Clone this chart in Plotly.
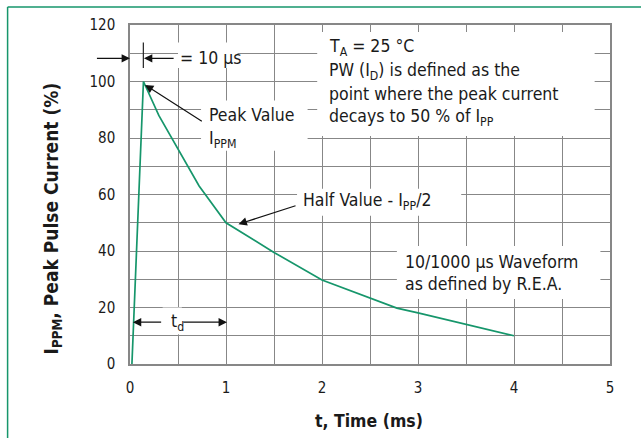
import subprocess
import plotly.graph_objects as go

# ---- data ----
t_ms = [0.02, 0.14, 0.3, 0.5, 0.72, 1.0, 1.5, 2.0, 2.5, 2.78, 3.0, 3.5, 4.0]
ipp_pct = [0, 100, 88, 76, 63, 50, 39.5, 29.7, 23.4, 19.8, 18.1, 14.1, 10]
x_ticks = [0, 1, 2, 3, 4, 5]
y_ticks = [0, 20, 40, 60, 80, 100, 120]

# ---- pick a condensed sans if one is installed ----
try:
    fams = subprocess.run(["fc-list", ":", "family"], capture_output=True,
                          text=True, timeout=10).stdout
except Exception:
    fams = ""
if "Liberation Sans Narrow" in fams:
    FONT, S_BODY, S_TICK, S_XT, S_YT = "Liberation Sans Narrow", 20.5, 17, 22, 23
elif "DejaVu Sans Condensed" in fams:
    FONT, S_BODY, S_TICK, S_XT, S_YT = "DejaVu Sans Condensed", 17.5, 15, 17.5, 19
else:
    FONT, S_BODY, S_TICK, S_XT, S_YT = "Roboto", 17, 15.5, 18.5, 19.5

GREEN = "#16966b"
GRID = "#878787"
INK = "#1a1a1a"

fig = go.Figure()
fig.add_trace(go.Scatter(x=t_ms, y=ipp_pct, mode="lines",
                         line=dict(color=GREEN, width=1.7),
                         hoverinfo="skip", showlegend=False))

axis_common = dict(showgrid=True, gridcolor=GRID, gridwidth=1,
                   showline=True, mirror=True, linecolor=GRID, linewidth=1.5,
                   zeroline=False, ticks="", fixedrange=True,
                   tickfont=dict(family=FONT, size=S_TICK, color=INK))

fig.update_layout(
    width=641, height=438,
    margin=dict(l=130, r=31, t=25, b=74),
    paper_bgcolor="white", plot_bgcolor="white",
    font=dict(family=FONT, color=INK),
    xaxis=dict(range=[0, 5], tickvals=x_ticks, ticklabelstandoff=9,
               minor=dict(dtick=0.5, tick0=0, showgrid=True, gridcolor=GRID, gridwidth=1),
               **axis_common),
    yaxis=dict(range=[0, 120], tickvals=y_ticks, ticklabelstandoff=10,
               minor=dict(dtick=10, tick0=0, showgrid=True, gridcolor=GRID, gridwidth=1),
               **axis_common),
)

shapes = []
# white backgrounds behind text blocks (between grid and traces)
for (x0, x1, y0, y1) in [(1.95, 4.84, 80.7, 117.5), (2.78, 4.9, 23.0, 41.8),
                         (0.5, 1.12, 104.8, 113.8), (0.34, 0.54, 10.5, 20.0),
                         (0.74, 1.85, 75.5, 93.3), (1.74, 3.45, 52.5, 62)]:
    shapes.append(dict(type="rect", xref="x", yref="y", x0=x0, x1=x1, y0=y0, y1=y1,
                       fillcolor="white", line=dict(width=0), layer="between"))
# dimension marker at the peak
shapes.append(dict(type="line", xref="x", yref="y", x0=0.139, x1=0.139, y0=104.8, y1=113.8,
                   line=dict(color="#222", width=1.2)))
# green frame (top and left)
shapes.append(dict(type="line", xref="paper", yref="paper", x0=-0.255, x1=1.08,
                   y0=1.053, y1=1.053, line=dict(color=GREEN, width=1.5)))
shapes.append(dict(type="line", xref="paper", yref="paper", x0=-0.255, x1=-0.255,
                   y0=-0.23, y1=1.053, line=dict(color=GREEN, width=1.5)))
fig.update_layout(shapes=shapes)

ann = []
def text(x, y, s, size=S_BODY, **kw):
    d = dict(x=x, y=y, xref="x", yref="y", text=s, showarrow=False,
             xanchor="left", yanchor="middle", align="left",
             font=dict(family=FONT, size=size, color=INK))
    d.update(kw)
    ann.append(d)

def arrow(xh, yh, xt, yt):
    ann.append(dict(x=xh, y=yh, ax=xt, ay=yt, xref="x", yref="y", axref="x", ayref="y",
                    text="", showarrow=True, arrowhead=2, arrowsize=1.4,
                    arrowwidth=1.2, arrowcolor="#111"))

text(0.5, 108.2, "= 10 µs")
text(2.05, 111.9, "T<sub>A</sub> = 25 °C")
text(2.05, 103.4, "PW (I<sub>D</sub>) is defined as the")
text(2.05, 95.7, "point where the peak current")
text(2.05, 87.3, "decays to 50 % of I<sub>PP</sub>")
text(0.8, 88.2, "Peak Value")
text(0.8, 79.5, "I<sub>PPM</sub>")
text(1.78, 57.4, "Half Value - I<sub>PP</sub>/2")
text(2.84, 36.0, "10/1000 µs Waveform")
text(2.84, 28.2, "as defined by R.E.A.")
text(0.41, 14.8, "t<sub>d</sub>")

arrow(0.0, 108.2, -0.36, 108.2)
arrow(0.145, 108.2, 0.47, 108.2)
arrow(0.156, 98.8, 0.764, 85.6)
arrow(1.13, 49.5, 1.74, 56.2)
arrow(0.03, 14.8, 0.34, 14.8)
arrow(1.01, 14.8, 0.54, 14.8)

ann.append(dict(x=-0.162, y=0.43, xref="paper", yref="paper", showarrow=False,
                xanchor="center", yanchor="middle",
                text="<b>I<sub>PPM</sub>, Peak Pulse Current (%)</b>", textangle=-90,
                font=dict(family=FONT, size=S_YT, color=INK)))
ann.append(dict(x=0.497, y=-0.168, xref="paper", yref="paper", showarrow=False,
                xanchor="center", yanchor="middle",
                text="<b>t, Time (ms)</b>",
                font=dict(family=FONT, size=S_XT, color=INK)))
fig.update_layout(annotations=ann)

fig.write_html("out.html", config={"displayModeBar": False},
               post_script="document.body.style.margin='0';")
